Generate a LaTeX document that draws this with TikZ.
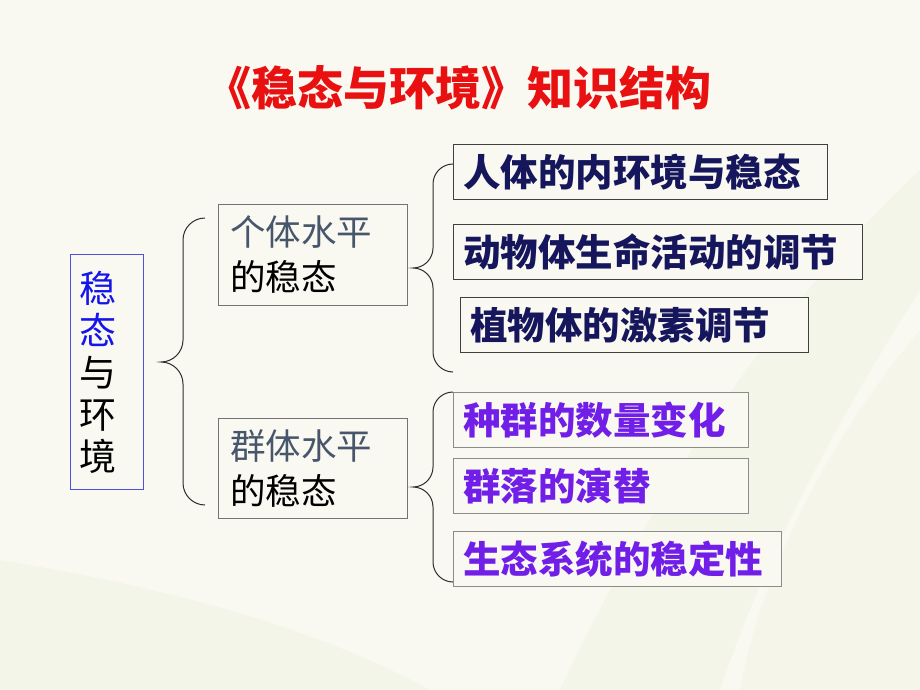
\documentclass[tikz,border=0pt]{standalone}
\usepackage{fontspec}
\usetikzlibrary{calc}
\newfontfamily\cjk{Noto Sans CJK SC}

\definecolor{paper}{RGB}{249,248,241}
\definecolor{swoosh}{RGB}{236,241,220}
\definecolor{titlered}{RGB}{232,16,16}
\definecolor{keyblue}{RGB}{20,20,235}
\definecolor{rootline}{RGB}{80,80,220}
\definecolor{slate}{RGB}{72,86,108}
\definecolor{navy}{RGB}{22,22,92}
\definecolor{violetink}{RGB}{112,30,232}
\definecolor{braceline}{RGB}{45,45,45}

\tikzset{
  box/.style={fill=paper, anchor=north west, align=left, inner ysep=0pt, line width=0.9pt},
  rootbox/.style={box, draw=rootline, inner xsep=9pt, font=\cjk\fontsize{37}{42}\selectfont},
  levelbox/.style={box, draw=black!55, inner xsep=12pt, font=\cjk\fontsize{35.5}{45}\selectfont},
  bodyleaf/.style={box, draw=black!75, inner xsep=10pt, minimum height=55pt, text=navy, font=\cjk\bfseries\fontsize{37.5}{40}\selectfont},
  groupleaf/.style={box, draw=black!45, inner xsep=10pt, minimum height=55pt, text=violetink, font=\cjk\bfseries\fontsize{37.5}{40}\selectfont},
  brace line/.style={draw=braceline, line width=1pt},
}

% curly brace: top end, tip, bottom end, corner radius
\newcommand{\groupbrace}[4]{%
  \draw[brace line] (#1) .. controls +({-0.55*#4},0) and +(0,{-0.55*#4}) .. ($(#1)+(-#4,#4)$)
    -- ($(#2)+(#4,-#4)$) .. controls +(0,{0.55*#4}) and +({0.55*#4},0) .. (#2)
    .. controls +({0.55*#4},0) and +(0,{-0.55*#4}) .. ($(#2)+(#4,#4)$)
    -- ($(#3)+(-#4,-#4)$) .. controls +(0,{0.55*#4}) and +({-0.55*#4},0) .. (#3);}

\begin{document}
\begin{tikzpicture}[x=1pt,y=-1pt]
    \useasboundingbox[fill=paper] (0,0) rectangle (920,690);

    % faint background swooshes
    \fill[swoosh,opacity=.35] (920,170) .. controls (760,320) and (640,520) .. (560,690) -- (720,690) .. controls (770,540) and (850,400) .. (920,290) -- cycle;
    \fill[swoosh,opacity=.3] (920,330) .. controls (820,450) and (760,580) .. (740,690) -- (920,690) -- cycle;
    \fill[swoosh,opacity=.35] (0,560) .. controls (180,590) and (320,630) .. (430,690) -- (0,690) -- cycle;

    \node[font=\cjk\bfseries\fontsize{46}{50}\selectfont, text=titlered] (title) at (458,88) {《稳态与环境》知识结构};

    \node[rootbox, text width=55pt, minimum height=235pt] (root) at (70,254)
        {\textcolor{keyblue}{稳}\\\textcolor{keyblue}{态}\\与\\环\\境\\[-14pt]};

    \node[levelbox, text width=165pt, minimum height=101pt] (single) at (218,204)
        {\textcolor{slate}{个体水平}\\的稳态};
    \node[levelbox, text width=165pt, minimum height=100pt] (group) at (218,418)
        {\textcolor{slate}{群体水平}\\的稳态};

    \node[bodyleaf, text width=354pt] (inner) at (453,144) {人体的内环境与稳态};
    \node[bodyleaf, text width=389pt] (animal) at (453,224) {动物体生命活动的调节};
    \node[bodyleaf, text width=328pt] (plant) at (460,297) {植物体的激素调节};

    \node[groupleaf, text width=275pt] (population) at (453,392) {种群的数量变化};
    \node[groupleaf, text width=275pt] (community) at (453,458) {群落的演替};
    \node[groupleaf, text width=308pt] (ecosystem) at (453,531) {生态系统的稳定性};

    \coordinate (bigtop) at (205,218);
    \coordinate (bigtip) at (161,362);
    \coordinate (bigbot) at (205,505);
    \coordinate (uptop) at (453,164);
    \coordinate (uptip) at (413,268);
    \coordinate (upbot) at (453,372);
    \coordinate (lotop) at (453,392);
    \coordinate (lotip) at (413,487);
    \coordinate (lobot) at (453,582);

    \groupbrace{bigtop}{bigtip}{bigbot}{22}
    \groupbrace{uptop}{uptip}{upbot}{20}
    \groupbrace{lotop}{lotip}{lobot}{20}

\end{tikzpicture}
\end{document}
